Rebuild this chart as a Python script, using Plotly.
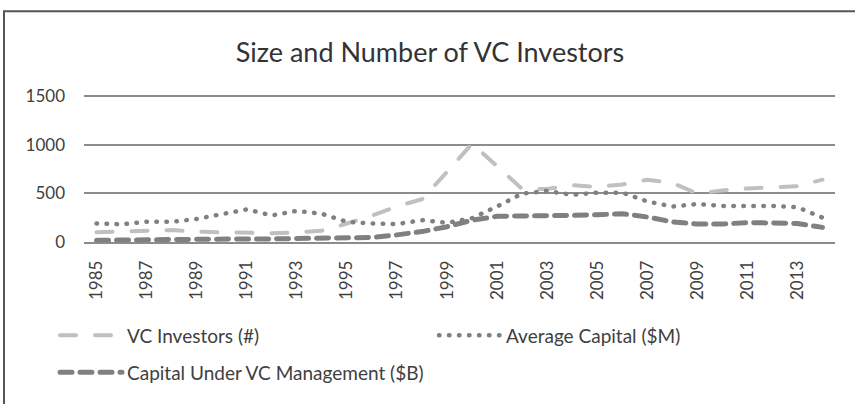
import plotly.graph_objects as go

years = list(range(1985, 2015))
vc_investors = [100, 110, 115, 123, 105, 100, 85, 90, 100, 115, 190, 270, 365, 440, 720,
                1010, 780, 545, 545, 584, 565, 590, 640, 607, 497, 530, 550, 557, 574, 640]
avg_capital = [190, 182, 207, 207, 237, 284, 335, 273, 320, 290, 207, 190, 184, 224, 197,
               245, 364, 497, 524, 484, 507, 507, 417, 364, 390, 370, 370, 370, 357, 250]
cap_mgmt = [18, 22, 26, 28, 30, 31, 32, 32, 33, 35, 40, 47, 73, 107, 157,
            224, 264, 264, 265, 273, 280, 290, 257, 207, 184, 184, 200, 200, 190, 150]
x_tick_labels = [str(y) for y in range(1985, 2015, 2)]
y_ticks = [0, 500, 1000, 1500]

FONT = "Lato"
TXT = "#404040"

fig = go.Figure()
fig.add_trace(go.Scatter(x=years, y=vc_investors, mode="lines", name="VC Investors (#)",
                         line=dict(color="#c0c0c0", width=4, dash="16px,19px"), legend="legend"))
fig.add_trace(go.Scatter(x=years, y=avg_capital, mode="lines", name="Average Capital ($M)",
                         line=dict(color="#808080", width=4.5, dash="0.5px,9.5px"), legend="legend3"))
fig.add_trace(go.Scatter(x=years, y=cap_mgmt, mode="lines", name="Capital Under VC Management ($B)",
                         line=dict(color="#808080", width=5, dash="12px,8px"), legend="legend2"))

L, R, T, B = 84, 20, 94, 158
pw = 855 - L - R
ph = 404 - T - B

def px_x(p):
    return (p - L) / pw

def px_y(p):
    return (404 - B - p) / ph

def leg(xp, yp):
    return dict(orientation="h", x=px_x(xp), xanchor="left", y=px_y(yp), yanchor="middle",
                itemwidth=62, font=dict(size=19, color=TXT, family=FONT), bgcolor="rgba(0,0,0,0)")

fig.update_layout(
    width=855, height=404,
    margin=dict(l=L, r=R, t=T, b=B),
    paper_bgcolor="white", plot_bgcolor="white",
    font=dict(family=FONT, color=TXT, size=17),
    title=dict(text="Size and Number of VC Investors", x=430/855, xanchor="center",
               y=1 - 53/404, yanchor="middle", font=dict(size=27, color="#333333", family=FONT)),
    xaxis=dict(range=[1984.5, 2014.5], tickvals=list(range(1985, 2015, 2)), ticktext=x_tick_labels,
               tickangle=-90, showgrid=False, zeroline=False, showline=True,
               linecolor="#8c8c8c", linewidth=1.5, ticks="", ticklabelstandoff=10,
               tickfont=dict(size=17, color=TXT)),
    yaxis=dict(range=[0, 1520], tickvals=y_ticks, showgrid=True, gridcolor="#8c8c8c", gridwidth=1.5,
               zeroline=False, ticks="", ticklabelstandoff=18, tickfont=dict(size=17, color=TXT)),
    legend=leg(55, 342),
    legend3=leg(434, 342),
    legend2=leg(55, 380),
    showlegend=True,
    shapes=[dict(type="rect", xref="paper", yref="paper", x0=px_x(4), x1=px_x(900),
                 y0=px_y(450), y1=px_y(9), line=dict(color="#555555", width=2), layer="below")],
)

post = """
document.body.style.margin='0';
var s=document.createElement('style');
s.textContent='.scatterlayer .js-line, .legendlines path {stroke-linecap: round !important;}';
document.head.appendChild(s);
"""
fig.write_html("out.html", post_script=post, config={"displayModeBar": False})
